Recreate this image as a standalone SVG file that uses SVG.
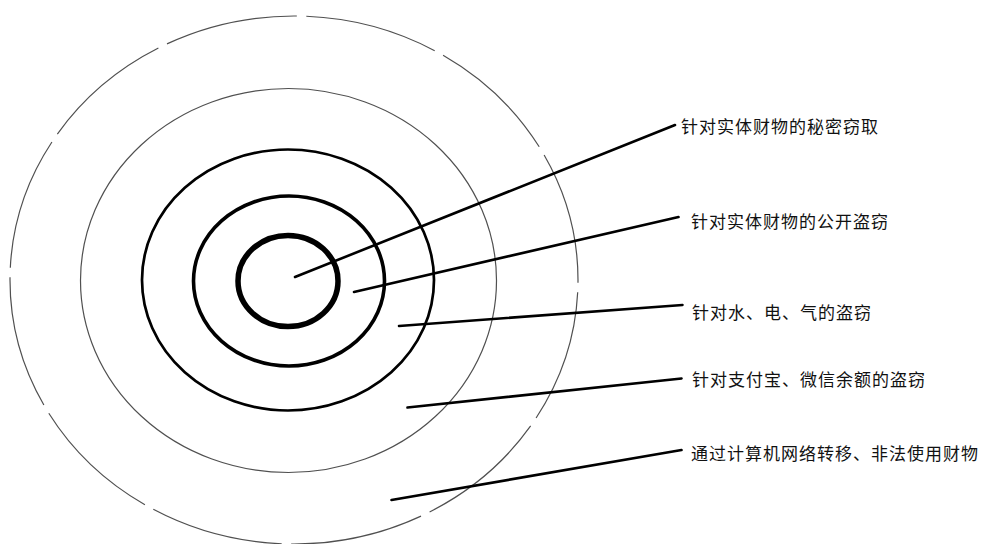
<svg xmlns="http://www.w3.org/2000/svg" width="981" height="544" viewBox="0 0 981 544">
  <style>
    .ring { fill: none; }
    .thin { stroke: #505050; stroke-width: 1.2; }
    .lead { stroke: #000; stroke-width: 2.6; stroke-linecap: round; fill: none; }
    .lbl { font-family: "Noto Sans CJK SC", "Noto Sans", sans-serif; font-size: 17px; letter-spacing: 1px; fill: #111; }
  </style>
  <rect width="981" height="544" fill="#fff"/>
  <g id="ring5">
    <ellipse class="ring thin" cx="294" cy="280" rx="284" ry="264" pathLength="360" stroke-dasharray="28 2" stroke-dashoffset="27.4"/>
  </g>
  <g id="ring4">
    <ellipse class="ring thin" cx="288.5" cy="280.5" rx="208" ry="192"/>
  </g>
  <g id="ring3">
    <ellipse class="ring" cx="288" cy="280" rx="146" ry="130.5" stroke="#000" stroke-width="2.7"/>
  </g>
  <g id="ring2">
    <ellipse class="ring" cx="289" cy="281" rx="95.5" ry="85" stroke="#000" stroke-width="3.6"/>
  </g>
  <g id="ring1">
    <ellipse class="ring" cx="288" cy="281" rx="50" ry="45.5" stroke="#000" stroke-width="5.5"/>
  </g>
  <g id="connectors">
    <line class="lead" x1="295" y1="277" x2="675" y2="125"/>
    <line class="lead" x1="354" y1="292" x2="678.5" y2="217"/>
    <line class="lead" x1="399" y1="326" x2="682.5" y2="305"/>
    <line class="lead" x1="407.5" y1="407.5" x2="681.5" y2="378.5"/>
    <line class="lead" x1="391.5" y1="500" x2="681.5" y2="450"/>
  </g>
  <g id="label1"><text class="lbl" x="681" y="133">针对实体财物的秘密窃取</text></g>
  <g id="label2"><text class="lbl" x="691" y="228">针对实体财物的公开盗窃</text></g>
  <g id="label3"><text class="lbl" x="692" y="319">针对水、电、气的盗窃</text></g>
  <g id="label4"><text class="lbl" x="692" y="385.5">针对支付宝、微信余额的盗窃</text></g>
  <g id="label5"><text class="lbl" x="691" y="460">通过计算机网络转移、非法使用财物</text></g>
</svg>
